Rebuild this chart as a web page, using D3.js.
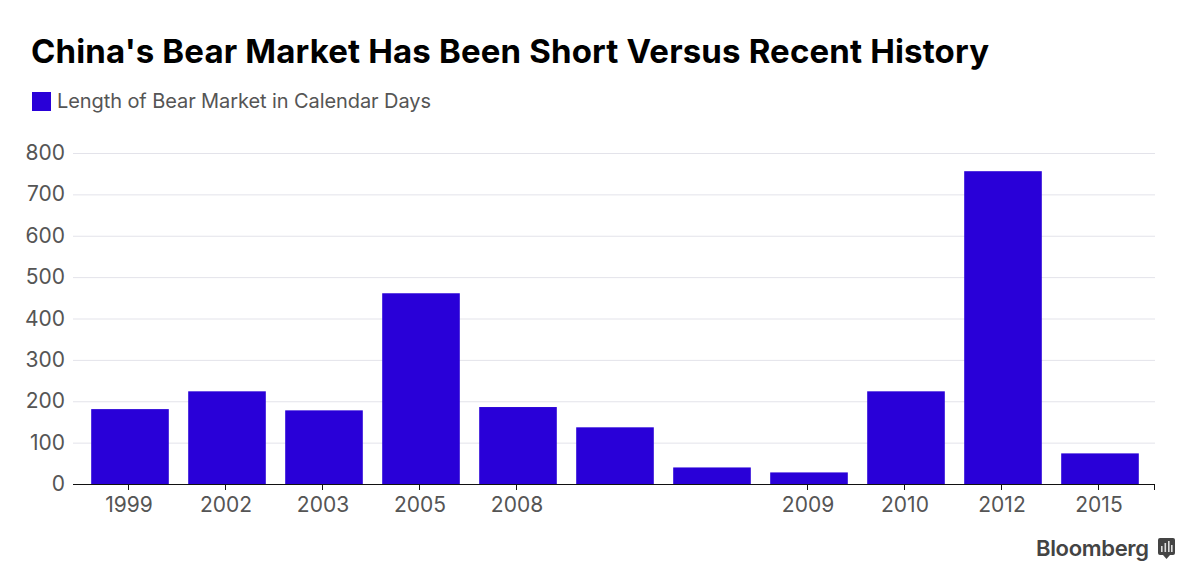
<!DOCTYPE html>
<html><head><meta charset="utf-8">
<script src="https://cdn.jsdelivr.net/npm/d3@7"></script>
<style>html,body{margin:0;background:#fff}svg{display:block}text{font-family:"Inter","Liberation Sans",sans-serif}</style>
</head><body><svg id="c" width="1200" height="586"></svg>
<script>
const categories=["a","b","c","d","e","f","g","h","i","j","k"];
const tickLabels=["1999","2002","2003","2005","2008","","","2009","2010","2012","2015"];
const values=[181,224,178,461,186,137,40,28,224,756,74];
const yTicks=[0,100,200,300,400,500,600,700,800];
const svg=d3.select("#c");
const x=d3.scaleBand().domain(categories).range([81.5,1148.5]).paddingInner(0.2).paddingOuter(0.1);
const y=d3.scaleLinear().domain([0,800]).range([484,153]);
svg.append("text").attr("x",31).attr("y",63).attr("font-size",33).attr("font-weight",700).attr("fill","#000").attr("textLength",958).attr("lengthAdjust","spacing").text("China's Bear Market Has Been Short Versus Recent History");
svg.append("rect").attr("x",32).attr("y",92).attr("width",19).attr("height",19).attr("fill","#2900d8");
svg.append("text").attr("x",57).attr("y",108).attr("font-size",20).attr("fill","#555").attr("textLength",374).attr("lengthAdjust","spacing").text("Length of Bear Market in Calendar Days");
svg.append("g").selectAll("line").data(yTicks.slice(1)).join("line").attr("x1",73).attr("x2",1155).attr("y1",d=>y(d)+.5).attr("y2",d=>y(d)+.5).attr("stroke","#e3e3ea");
svg.append("g").selectAll("text").data(yTicks).join("text").attr("x",65).attr("y",d=>y(d)+7).attr("text-anchor","end").attr("font-size",21).attr("fill","#555").text(d=>d);
svg.append("g").selectAll("rect").data(values).join("rect").attr("x",(d,i)=>x(categories[i])).attr("width",x.bandwidth()).attr("y",d=>y(d)).attr("height",d=>y(0)-y(d)).attr("fill","#2900d8");
svg.append("line").attr("x1",73).attr("x2",1155).attr("y1",484.5).attr("y2",484.5).attr("stroke","#111");
const labelled=categories.filter((c,i)=>tickLabels[i]);
svg.append("g").selectAll("line").data(labelled).join("line").attr("x1",d=>Math.floor(x(d)+x.bandwidth()/2)-.5).attr("x2",d=>Math.floor(x(d)+x.bandwidth()/2)-.5).attr("y1",484).attr("y2",490).attr("stroke","#111");
svg.append("line").attr("x1",1154.5).attr("x2",1154.5).attr("y1",484).attr("y2",490).attr("stroke","#111");
svg.append("g").selectAll("text").data(tickLabels).join("text").attr("x",(d,i)=>x(categories[i])+x.bandwidth()/2-1).attr("y",512).attr("text-anchor","middle").attr("font-size",21).attr("fill","#555").text(d=>d);
svg.append("text").attr("x",1036).attr("y",556).attr("font-size",22).attr("font-weight",600).attr("fill","#444").attr("textLength",113).attr("lengthAdjust","spacing").text("Bloomberg");
svg.append("rect").attr("x",1158).attr("y",538).attr("width",17).attr("height",17).attr("rx",2).attr("fill","#444");
svg.append("path").attr("d","M1163,555h7l-3.5,4z").attr("fill","#444");
svg.append("g").selectAll("rect").data([[1161,6],[1164.5,9],[1168,11],[1171,7]]).join("rect").attr("x",d=>d[0]).attr("y",d=>552-d[1]).attr("width",1.6).attr("height",d=>d[1]).attr("fill","#ddd");
</script></body></html>
